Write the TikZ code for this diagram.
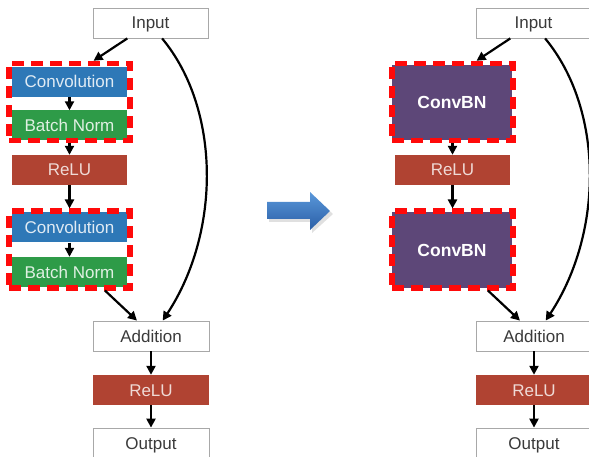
\documentclass[tikz,border=0pt]{standalone}
\usepackage{fontspec}
\setmainfont{Liberation Sans}
\usetikzlibrary{arrows.meta,calc}
\definecolor{convblue}{HTML}{2E78B7}
\definecolor{bngreen}{HTML}{2E9B48}
\definecolor{relured}{HTML}{B04332}
\definecolor{convbn}{HTML}{5D4778}
\definecolor{txtgray}{HTML}{3A3A3A}
\definecolor{boxgray}{HTML}{A8A8A8}
\definecolor{dashred}{HTML}{FF0A0A}
\definecolor{arrtop}{HTML}{5A98DA}
\definecolor{arrbot}{HTML}{2A5EA6}
\begin{document}
\begin{tikzpicture}[x=1pt,y=-1pt,
  txt/.style={inner sep=0pt,text height=12pt,text depth=0pt,font=\fontsize{17}{19}\selectfont},
  plainbox/.style={txt,draw=boxgray,line width=0.8pt,fill=white,minimum width=115pt,minimum height=30pt,text=txtgray},
  convbox/.style={txt,fill=convblue,minimum width=115pt,minimum height=30pt,text=white!85!convblue},
  bnbox/.style={txt,fill=bngreen,minimum width=115pt,minimum height=30pt,text=white!85!bngreen},
  relubox/.style={txt,fill=relured,minimum width=115pt,minimum height=30pt,text=white!80!relured},
  cbbox/.style={fill=convbn,minimum width=120pt,minimum height=75pt,inner sep=0pt,text height=12.5pt,text depth=0pt,font=\fontsize{17.5}{19}\selectfont\bfseries,text=white},
  redbox/.style={draw=dashred,line width=5.5pt,dash pattern=on 12pt off 7pt,minimum width=121pt,minimum height=77pt,inner sep=0pt},
  arr/.style={draw=black,line width=2.2pt,-{Triangle[length=9pt,width=9pt]}}
]
\useasboundingbox (0,0) rectangle (589,457);

% ---------- left ----------
\node[plainbox] (inL) at (150.5,23) {Input};
\node[convbox] (convL1) at (69.5,82) {Convolution};
\node[bnbox] (bnL1) at (69.5,125.5) {Batch Norm};
\node[redbox] (rbL1) at (69.5,102) {};
\node[relubox] (reluL1) at (69.5,170) {ReLU};
\node[convbox] (convL2) at (69.5,227.5) {Convolution};
\node[bnbox] (bnL2) at (69.5,272) {Batch Norm};
\node[redbox,minimum height=76.5pt] (rbL2) at (69.5,249.5) {};
\node[plainbox,minimum width=116pt] (addL) at (151,336) {Addition};
\node[relubox,minimum width=116pt] (reluL2) at (151,390) {ReLU};
\node[plainbox,minimum width=116pt] (outL) at (151,443) {Output};

\draw[arr] ($(inL.south west)!0.3!(inL.south east)$) -- ($(rbL1.north west)!0.69!(rbL1.north east)$);
\draw[arr] (convL1) -- (bnL1);
\draw[arr] (rbL1.south) -- (reluL1.north);
\draw[arr] (reluL1.south) -- (rbL2.north);
\draw[arr] (convL2) -- (bnL2);
\draw[arr] ($(rbL2.south west)!0.78!(rbL2.south east)$) -- ($(addL.north west)!0.38!(addL.north east)$);
\draw[arr] ($(inL.south west)!0.6!(inL.south east)$) .. controls +(59,71) and +(58,-88) .. ($(addL.north west)!0.6!(addL.north east)$);
\draw[arr] (addL) -- (reluL2);
\draw[arr] (reluL2) -- (outL);

% ---------- middle arrow ----------
\fill[black!12] (269,205) -- (312,205) -- (312,195) -- (333,214) -- (312,233) -- (312,222) -- (269,222) -- cycle;
\shade[top color=arrtop,bottom color=arrbot] (267,202) -- (310,202) -- (310,192) -- (330,211) -- (310,230) -- (310,219) -- (267,219) -- cycle;

% ---------- right ----------
\node[plainbox] (inR) at (533.5,23) {Input};
\node[cbbox] (cbR1) at (452,102.5) {ConvBN};
\node[redbox] (rbR1) at (452.5,102) {};
\node[relubox] (reluR1) at (452.5,170) {ReLU};
\node[cbbox] (cbR2) at (452,250) {ConvBN};
\node[redbox,minimum height=76.5pt] (rbR2) at (452.5,249.5) {};
\node[plainbox,minimum width=116pt] (addR) at (534,336) {Addition};
\node[relubox,minimum width=116pt] (reluR2) at (534,390) {ReLU};
\node[plainbox,minimum width=116pt] (outR) at (534,443) {Output};

\draw[arr] ($(inR.south west)!0.3!(inR.south east)$) -- ($(rbR1.north west)!0.69!(rbR1.north east)$);
\draw[arr] (rbR1.south) -- (reluR1.north);
\draw[arr] (reluR1.south) -- (rbR2.north);
\draw[arr] ($(rbR2.south west)!0.78!(rbR2.south east)$) -- ($(addR.north west)!0.38!(addR.north east)$);
\draw[arr] ($(inR.south west)!0.6!(inR.south east)$) .. controls +(59,71) and +(58,-88) .. ($(addR.north west)!0.6!(addR.north east)$);
\draw[arr] (addR) -- (reluR2);
\draw[arr] (reluR2) -- (outR);
\end{tikzpicture}
\end{document}
